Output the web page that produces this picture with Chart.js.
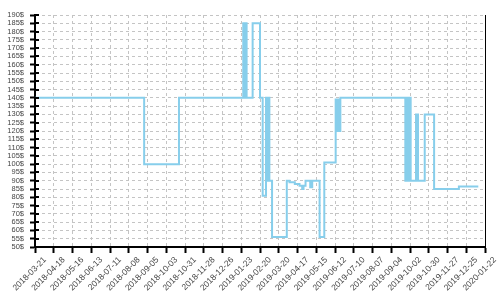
<!DOCTYPE html>
<html>
<head>
<meta charset="utf-8">
<script src="https://cdn.jsdelivr.net/npm/chart.js@4/dist/chart.umd.min.js"></script>
<style>
  html, body { margin: 0; padding: 0; background: #fff; }
  canvas { display: block; }
</style>
</head>
<body>
<canvas id="c" width="500" height="300"></canvas>
<script>
// ---- data ----
const startDate = '2018-03-21';
const endDate = '2020-01-22';
const tickStepDays = 28;
const yTicks = { min: 50, max: 190, step: 5 };

const priceDates = [
  '2018-03-21', '2018-08-31', '2018-10-22',
  '2019-01-26', '2019-01-27', '2019-01-28', '2019-01-29', '2019-01-30', '2019-01-31',
  '2019-02-09', '2019-02-20', '2019-02-24', '2019-03-01',
  '2019-03-02', '2019-03-03', '2019-03-04', '2019-03-05', '2019-03-06',
  '2019-03-10', '2019-04-01', '2019-04-05', '2019-04-13', '2019-04-20', '2019-04-24',
  '2019-04-26', '2019-04-29', '2019-05-06', '2019-05-09', '2019-05-20', '2019-05-27',
  '2019-06-13', '2019-06-14', '2019-06-15', '2019-06-16', '2019-06-17', '2019-06-18',
  '2019-06-20', '2019-09-25', '2019-09-26', '2019-09-27', '2019-09-28', '2019-09-29',
  '2019-09-30', '2019-10-03', '2019-10-11', '2019-10-14', '2019-10-24', '2019-11-07',
  '2019-12-14', '2020-01-12'
];
const prices = [
  140, 100, 140,
  185, 140, 185, 140, 185, 140,
  185, 140, 81, 140,
  90, 140, 90, 140, 90,
  56, 90, 89, 88, 87, 85,
  87, 90, 86, 90, 56, 101,
  139, 120, 139, 120, 139, 120,
  140, 90, 140, 90, 140, 90,
  140, 90, 130, 90, 130, 85,
  86.5, 86.5
];

// ---- helpers ----
const DAY = 86400000;
const base = Date.parse(startDate + 'T00:00:00Z');
const toDay = s => Math.round((Date.parse(s + 'T00:00:00Z') - base) / DAY);
const fmtDay = d => new Date(base + d * DAY).toISOString().slice(0, 10);

const points = priceDates.map((d, i) => ({ x: toDay(d), y: prices[i] }));

const frame = {
  id: 'frame',
  afterDraw(chart) {
    const { ctx, chartArea: a, scales } = chart;
    ctx.save();
    ctx.strokeStyle = '#000';
    ctx.lineWidth = 1;
    // right border
    ctx.beginPath();
    ctx.moveTo(a.right + 0.5, a.top);
    ctx.lineTo(a.right + 0.5, a.bottom + 1);
    ctx.stroke();
    // inner parts of y ticks
    ctx.lineWidth = 2;
    scales.y.ticks.forEach((t, i) => {
      const y = Math.round(scales.y.getPixelForTick(i));
      ctx.beginPath();
      ctx.moveTo(a.left, y);
      ctx.lineTo(a.left + 4, y);
      ctx.stroke();
    });
    ctx.restore();
  }
};

new Chart(document.getElementById('c'), {
  type: 'line',
  data: {
    datasets: [{
      data: points,
      borderColor: '#87CEEB',
      borderWidth: 2,
      pointRadius: 0,
      fill: false,
      stepped: 'before',
      tension: 0
    }]
  },
  options: {
    responsive: false,
    animation: false,
    devicePixelRatio: 1,
    layout: { padding: { top: 15, right: 15, left: 0, bottom: 0 } },
    plugins: { legend: { display: false }, tooltip: { enabled: false } },
    scales: {
      x: {
        type: 'linear',
        min: 0,
        max: toDay(endDate),
        afterFit(s) { s.height = 53; },
        afterBuildTicks(s) {
          const t = [];
          for (let v = 0; v <= toDay(endDate); v += tickStepDays) t.push({ value: v });
          s.ticks = t;
        },
        ticks: {
          autoSkip: false,
          minRotation: 45,
          maxRotation: 45,
          labelOffset: 10,
          padding: 2,
          color: '#444',
          font: { family: 'Liberation Sans', size: 8.5 },
          callback: v => fmtDay(v)
        },
        grid: {
          color: '#c4c4c4',
          lineWidth: 1,
          tickLength: 6,
          tickColor: '#000',
          tickWidth: 2,
          tickBorderDash: []
        },
        border: { display: true, color: '#000', width: 2, dash: [3, 3] }
      },
      y: {
        min: yTicks.min,
        max: yTicks.max,
        afterFit(s) { s.width = 35; },
        ticks: {
          stepSize: yTicks.step,
          autoSkip: false,
          padding: 6,
          color: '#444',
          font: { family: 'Liberation Sans', size: 7.5 },
          callback: v => v + '$'
        },
        grid: {
          color: '#c4c4c4',
          lineWidth: 1,
          tickLength: 5,
          tickColor: '#000',
          tickWidth: 2,
          tickBorderDash: []
        },
        border: { display: true, color: '#000', width: 2, dash: [3, 3] }
      }
    }
  },
  plugins: [frame]
});
</script>
</body>
</html>
